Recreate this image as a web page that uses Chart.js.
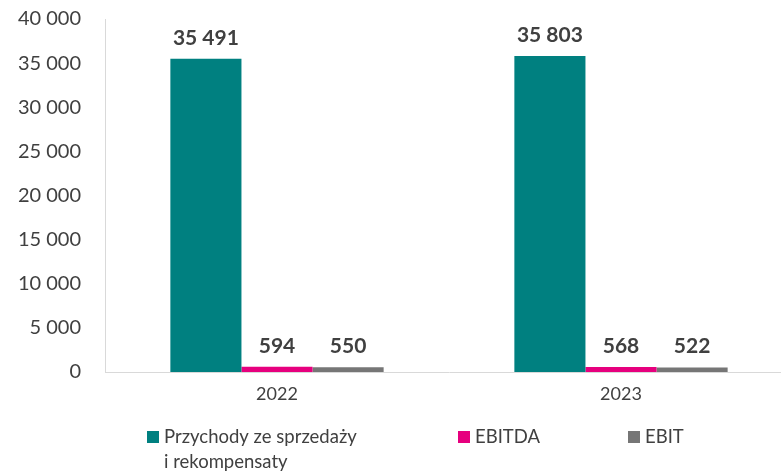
<!DOCTYPE html>
<html>
<head>
<meta charset="utf-8">
<script src="https://cdn.jsdelivr.net/npm/chart.js@4"></script>
<style>
  html, body { margin: 0; padding: 0; background: #fff; overflow: hidden; }
  #chart { display: block; }
</style>
</head>
<body>
<canvas id="chart" width="793" height="473"></canvas>
<script>
// Chart data
const years = ['2022', '2023'];
const seriesNames = ['Przychody ze sprzedaży\ni rekompensaty', 'EBITDA', 'EBIT'];
const revenue = [35491, 35803];
const ebitda = [594, 568];
const ebit = [550, 522];
const seriesColors = ['#008080', '#E6007E', '#767676'];
const yTicks = [0, 5000, 10000, 15000, 20000, 25000, 30000, 35000, 40000];

const FONT = 'Lato, "Open Sans", sans-serif';
const TEXT = '#404040';

function fmt(n) {
    return String(n).replace(/\B(?=(\d{3})+(?!\d))/g, ' ');
}

// Bold value labels above bars
const valueLabels = {
    id: 'valueLabels',
    afterDatasetsDraw(chart) {
        const ctx = chart.ctx;
        ctx.save();
        ctx.font = 'bold 21px ' + FONT;
        ctx.fillStyle = TEXT;
        ctx.textAlign = 'center';
        ctx.textBaseline = 'middle';
        chart.data.datasets.forEach((ds, i) => {
            chart.getDatasetMeta(i).data.forEach((bar, j) => {
                ctx.fillText(fmt(ds.data[j]), bar.x, bar.y - 21);
            });
        });
        ctx.restore();
    }
};

// Legend below the chart, with square markers and wrapped first label
const bottomLegend = {
    id: 'bottomLegend',
    afterDraw(chart) {
        const ctx = chart.ctx;
        const startX = [147, 458, 628];
        const top = 431;
        ctx.save();
        ctx.font = '18.5px ' + FONT;
        ctx.textBaseline = 'middle';
        ctx.textAlign = 'left';
        chart.data.datasets.forEach((ds, i) => {
            ctx.fillStyle = ds.backgroundColor;
            ctx.fillRect(startX[i], top, 12, 12);
            ctx.fillStyle = TEXT;
            ds.label.split('\n').forEach((line, k) => {
                ctx.fillText(line, startX[i] + 17, top + 6 + k * 25);
            });
        });
        ctx.restore();
    }
};

new Chart(document.getElementById('chart'), {
    type: 'bar',
    data: {
        labels: years,
        datasets: [
            { label: seriesNames[0], data: revenue, backgroundColor: seriesColors[0] },
            { label: seriesNames[1], data: ebitda, backgroundColor: seriesColors[1] },
            { label: seriesNames[2], data: ebit, backgroundColor: seriesColors[2] }
        ]
    },
    options: {
        responsive: false,
        animation: false,
        layout: { padding: 0 },
        datasets: {
            bar: { barPercentage: 1, categoryPercentage: 0.62 }
        },
        plugins: {
            legend: { display: false },
            tooltip: { enabled: false }
        },
        scales: {
            x: {
                afterFit: (scale) => { scale.height = 101; },
                grid: { display: false, drawTicks: false },
                border: { color: '#d9d9d9', width: 1 },
                ticks: { color: TEXT, font: { family: FONT, size: 18 }, padding: 11 }
            },
            y: {
                min: 0,
                max: 40000,
                afterFit: (scale) => {
                    scale.width = 105;
                    scale.paddingTop = 19;
                    scale.paddingBottom = 0;
                },
                afterBuildTicks: (scale) => { scale.ticks = yTicks.map(v => ({ value: v })); },
                grid: { display: false, drawTicks: false },
                border: { color: '#d9d9d9', width: 1 },
                ticks: {
                    color: TEXT,
                    font: { family: FONT, size: 20 },
                    padding: 24,
                    callback: (v) => fmt(v)
                }
            }
        }
    },
    plugins: [valueLabels, bottomLegend]
});
</script>
</body>
</html>
